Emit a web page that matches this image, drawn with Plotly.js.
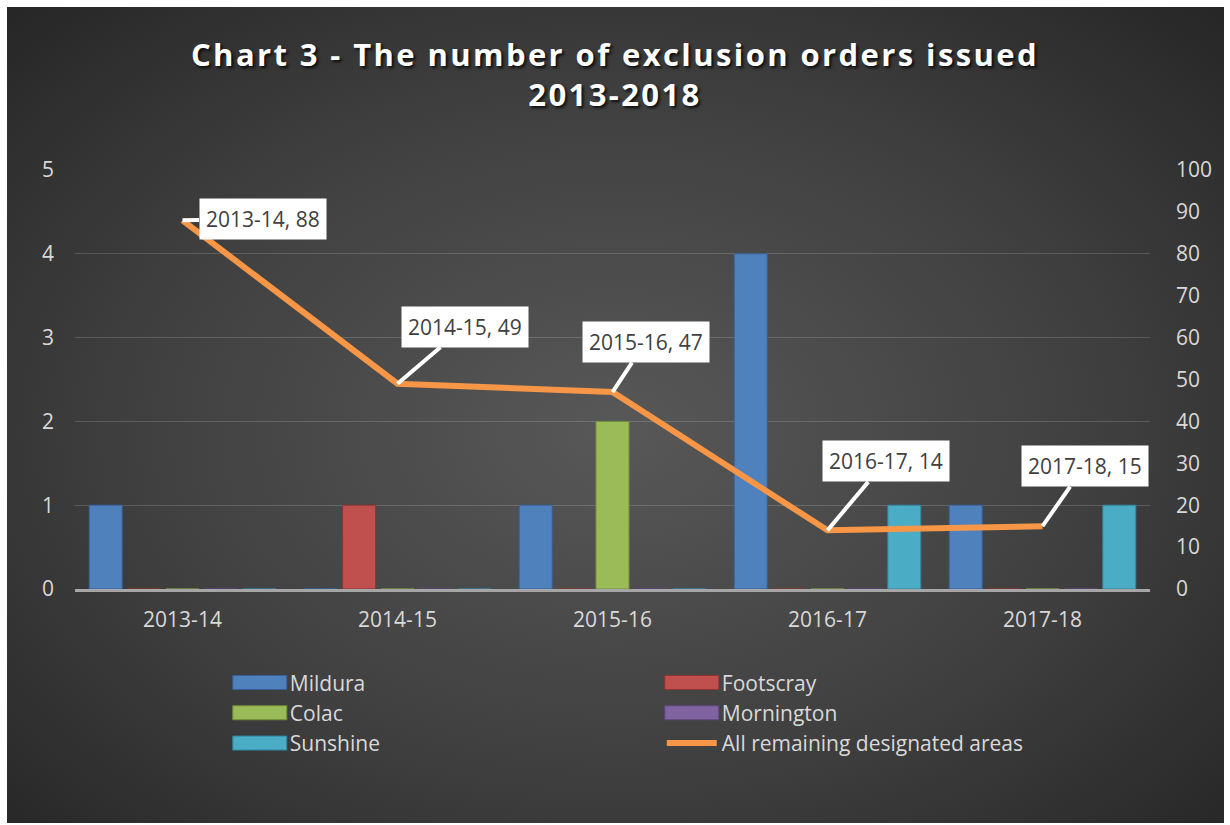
<!DOCTYPE html>
<html lang="en">
<head>
  <meta charset="UTF-8">
  <title>Chart 3 - Exclusion orders 2013-2018</title>
  <script src="https://cdn.plot.ly/plotly-3.0.1.min.js"></script>
  <style>
    body { margin: 0; background: #ffffff; }
    #bg {
      position: absolute; left: 7px; top: 7px; width: 1217px; height: 816px;
      background: radial-gradient(ellipse at 50% 52%, #585858 0%, #404040 55%, #262626 100%);
    }
    #plot { position: absolute; left: 0; top: 0; width: 1230px; height: 825px; }
    /* Excel title is spaced out a little */
    #plot .gtitle { letter-spacing: 2.4px; }
  </style>
</head>
<body>
  <div id="bg"></div>
  <div id="plot"></div>

  <script>
    // financial years on the x axis
    const years = ['2013-14', '2014-15', '2015-16', '2016-17', '2017-18'];

    // exclusion orders per area (left axis)
    const mildura    = [1, 0, 1, 4, 1];
    const footscray  = [0, 1, 0, 0, 0];
    const colac      = [0, 0, 2, 0, 0];
    const mornington = [0, 0, 0, 0, 0];
    const sunshine   = [0, 0, 0, 1, 1];

    // all remaining designated areas (right axis)
    const remaining = [88, 49, 47, 14, 15];

    const font = 'Open Sans, Noto Sans, sans-serif';
    const grey = '#d9d9d9';

    function barTrace(name, values, color, edge) {
      return {
        x: years,
        y: values,
        type: 'bar',
        name: name,
        marker: { color: color, line: { color: edge, width: 1 } },
        hoverinfo: 'x+y+name'
      };
    }

    const traces = [
      barTrace('Mildura', mildura, '#4f81bd', '#35609a'),
      barTrace('Footscray', footscray, '#c0504d', '#8f3432'),
      barTrace('Colac', colac, '#9bbb59', '#72903a'),
      barTrace('Mornington', mornington, '#8064a2', '#5d477c'),
      barTrace('Sunshine', sunshine, '#4bacc6', '#2f849c'),
      {
        x: years,
        y: remaining,
        type: 'scatter',
        mode: 'lines',
        name: 'All remaining designated areas',
        yaxis: 'y2',
        line: { color: '#f79646', width: 6 }
      }
    ];

    // white callout labels on the line
    const labels = years.map((yr, i) => ({
      x: yr,
      y: remaining[i],
      xref: 'x',
      yref: 'y2',
      text: yr + ', ' + remaining[i],
      showarrow: true,
      arrowhead: 0,
      arrowwidth: 4,
      arrowcolor: '#ffffff',
      standoff: 0,
      ax: [80, 67, 33, 58, 42][i],
      ay: [-1, -57, -50, -69, -60][i],
      bgcolor: '#ffffff',
      borderpad: 6,
      font: { family: font, size: 21, color: '#404040' }
    }));

    const layout = {
      width: 1230,
      height: 825,
      margin: { l: 75, r: 80, t: 170, b: 236 },
      paper_bgcolor: 'rgba(0,0,0,0)',
      plot_bgcolor: 'rgba(0,0,0,0)',
      font: { family: font, size: 21, color: grey },
      title: {
        text: '<b>Chart 3 - The number of exclusion orders issued<br>2013-2018</b>',
        x: 0.5,
        xref: 'container',
        y: 0.92,
        yref: 'container',
        yanchor: 'top',
        font: { family: font, size: 31, color: '#ffffff', shadow: '2px 2px 3px rgba(0,0,0,0.8)' }
      },
      barmode: 'group',
      bargap: 0.107,
      bargroupgap: 0.14,
      xaxis: {
        type: 'category',
        automargin: false,
        showline: true,
        linecolor: '#a6a6a6',
        linewidth: 3,
        showgrid: false,
        ticks: '',
        ticklabelstandoff: 10,
        tickfont: { size: 21, color: grey }
      },
      yaxis: {
        range: [0, 5],
        dtick: 1,
        automargin: false,
        showgrid: true,
        gridcolor: 'rgba(255,255,255,0.16)',
        gridwidth: 1,
        zeroline: false,
        ticks: '',
        ticklabelstandoff: 20,
        tickfont: { size: 21, color: grey }
      },
      yaxis2: {
        range: [0, 100],
        dtick: 10,
        automargin: false,
        overlaying: 'y',
        side: 'right',
        showgrid: false,
        zeroline: false,
        ticks: '',
        ticklabelstandoff: 25,
        tickfont: { size: 21, color: grey }
      },
      showlegend: true,
      legend: {
        orientation: 'h',
        x: 0.144,
        xanchor: 'left',
        y: -0.175,
        yanchor: 'top',
        entrywidth: 367,
        itemwidth: 50,
        traceorder: 'normal',
        bgcolor: 'rgba(0,0,0,0)',
        font: { family: font, size: 21, color: grey }
      },
      annotations: labels
    };

    // stretch the legend bar swatches into wide Excel-style blocks
    function widenSwatches() {
      document.querySelectorAll('#plot g.legendpoints path').forEach(p => {
        const d = p.getAttribute('d') || '';
        if (p.classList.contains('legendbar') || d === 'M6,6H-6V-6H6Z') {
          p.setAttribute('d', 'M27,7H-27V-7H27Z');
        }
      });
    }

    Plotly.newPlot('plot', traces, layout, { displayModeBar: false }).then(gd => {
      widenSwatches();
      gd.on('plotly_afterplot', widenSwatches);
      setTimeout(widenSwatches, 50);
      setTimeout(widenSwatches, 300);
    });
  </script>
</body>
</html>
